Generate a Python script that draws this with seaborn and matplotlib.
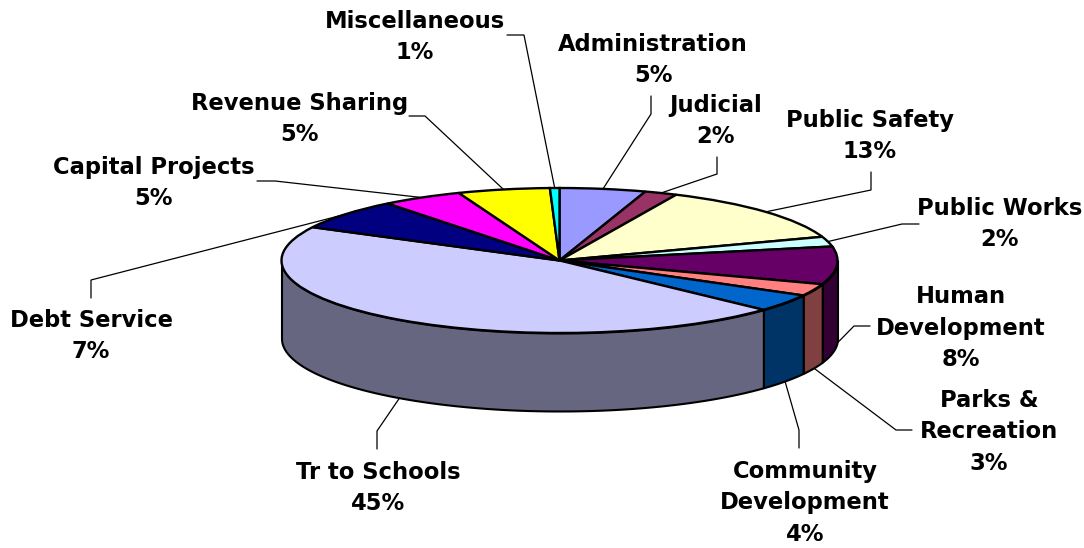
import numpy as np
import matplotlib
matplotlib.use("Agg")
import matplotlib.pyplot as plt
from matplotlib.transforms import Affine2D
import seaborn as sns

categories = ["Administration", "Judicial", "Public Safety", "Public Works",
              "Human\nDevelopment", "Parks &\nRecreation", "Community\nDevelopment",
              "Tr to Schools", "Debt Service", "Capital Projects",
              "Revenue Sharing", "Miscellaneous"]
# slice sizes as measured on the drawing; printed labels are the chart's own rounded figures
shares = [5.0, 1.9, 12.8, 2.2, 8.4, 2.7, 3.9, 45.7, 6.8, 4.7, 5.35, 0.55]
percent_labels = [5, 2, 13, 2, 8, 3, 4, 45, 7, 5, 5, 1]
top_colors = ["#9999FF", "#993366", "#FFFFCC", "#CCFFFF", "#660066", "#FF8080",
              "#0066CC", "#CCCCFF", "#000080", "#FF00FF", "#FFFF00", "#00FFFF"]
side_colors = ["#4C4C80", "#4C1933", "#808066", "#668080", "#330033", "#804040",
               "#003366", "#666680", "#000040", "#800080", "#808000", "#008080"]

W, H = 1084, 548
CX, CY, RX, RY, DEPTH = 559.5, 260.5, 278.0, 72.5, 78.0

sns.set_theme(style="white")
plt.rcParams["font.family"] = ["DejaVu Sans"]

fig = plt.figure(figsize=(W / 100, H / 100), dpi=100, facecolor="white")
ax = fig.add_axes([0, 0, 1, 1])

vals = np.array(shares, dtype=float)
edges = np.concatenate([[0], np.cumsum(vals)]) / vals.sum() * 360.0
depth = DEPTH / RY

# side wall: only the front half of the rim is visible
for a0, a1, col in zip(edges[:-1], edges[1:], sns.color_palette(side_colors)):
    lo, hi = max(a0, 90.0), min(a1, 270.0)
    if hi <= lo:
        continue
    t = np.radians(np.linspace(lo, hi, 80))
    ax.fill_between(np.sin(t), np.cos(t), np.cos(t) - depth, color=col,
                    edgecolor="black", linewidth=1.5, zorder=1)

# top face
wedges, _ = ax.pie(vals, colors=sns.color_palette(top_colors), startangle=90,
                   counterclock=False, radius=1.0,
                   wedgeprops=dict(edgecolor="black", linewidth=1.7, zorder=2))

ax.set_aspect("auto")
ax.set_xlim((0 - CX) / RX, (W - CX) / RX)
ax.set_ylim((CY - H) / RY, CY / RY)
ax.axis("off")

# pixel coordinates (origin top-left) for annotation furniture
px = Affine2D().scale(1, -1).translate(0, H)

label_pos = [(653, 60), (716, 121), (870, 136), (1000, 224), (961, 328), (989, 432),
             (805, 503), (378, 488), (91, 336), (154, 183), (300, 119), (415, 37)]
leaders = [[(651, 114), (651, 96)], [(717, 174), (717, 157)], [(871, 190), (871, 172)],
           [(902, 224), (919, 224)], [(854, 326), (870, 326)], [(896, 430), (912, 430)],
           [(799, 430), (799, 448)], [(377, 431), (377, 449)], [(91, 280), (91, 298)],
           [(275, 181), (257, 181)], [(425, 116), (409, 116)], [(524, 35), (507, 35)]]
# leader anchors on the rim: slice midpoints; front slices attach to the lower rim
for i, (cat, a0, a1) in enumerate(zip(categories, edges[:-1], edges[1:])):
    mid = np.radians((a0 + a1) / 2)
    ax_x = CX + RX * np.sin(mid)
    ax_y = CY - RY * np.cos(mid)
    if np.cos(mid) < 0:
        ax_y += DEPTH
    xs = [ax_x] + [p[0] for p in leaders[i]]
    ys = [ax_y] + [p[1] for p in leaders[i]]
    ax.plot(xs, ys, color="black", lw=0.9, transform=px,
            solid_joinstyle="miter", zorder=0, clip_on=False)
    ax.text(label_pos[i][0], label_pos[i][1], f"{cat}\n{percent_labels[i]}%", transform=px,
            ha="center", va="center", multialignment="center", fontsize=16.3,
            fontweight="bold", color="black", linespacing=1.49)

fig.savefig("out.png", dpi=100, facecolor="white")
